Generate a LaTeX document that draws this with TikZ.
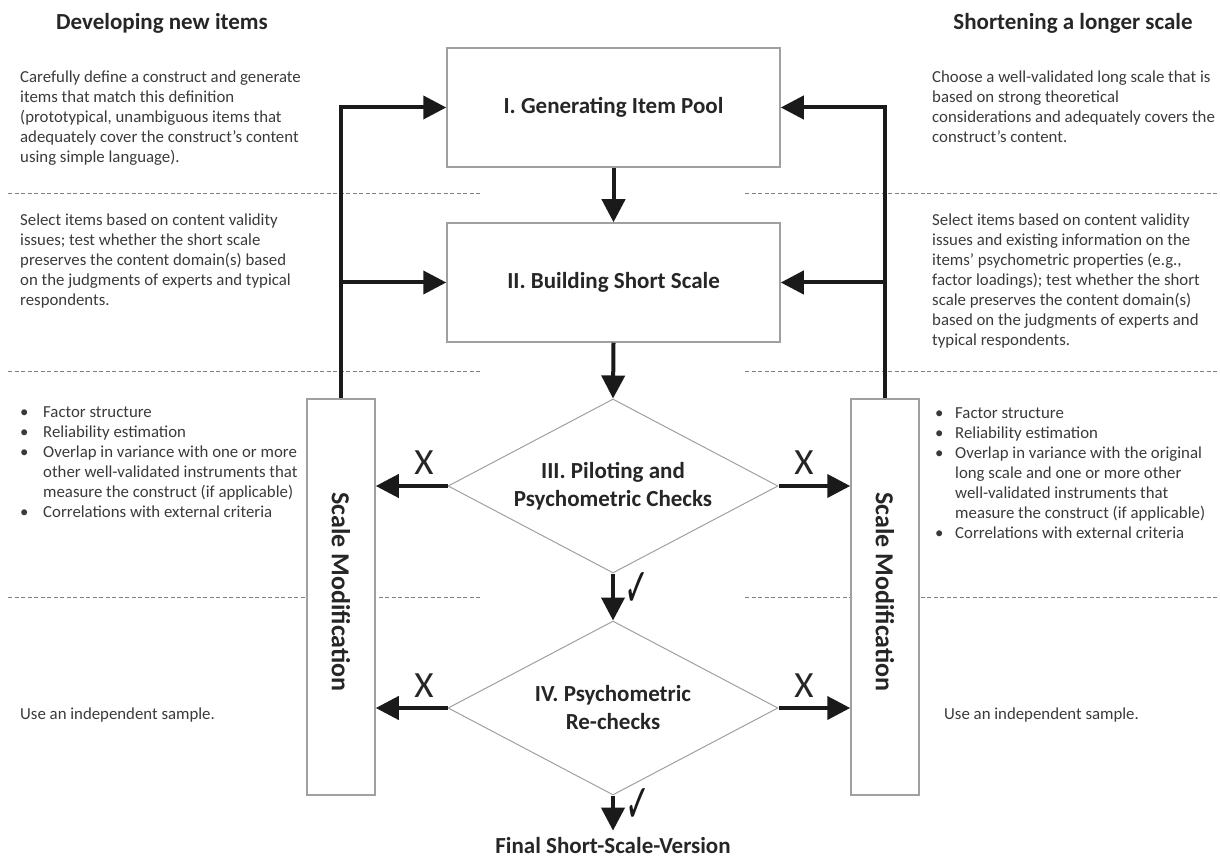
\documentclass[tikz,border=0pt]{standalone}
\usepackage{fontspec}
\setmainfont{Carlito}
\newfontfamily\symfont{DejaVu Sans}
\usetikzlibrary{arrows.meta,shapes.geometric}
\definecolor{txt}{HTML}{3A3A3A}
\definecolor{hd}{HTML}{262626}
\definecolor{bord}{HTML}{A0A0A0}
\definecolor{dashc}{HTML}{808080}
\definecolor{arrc}{HTML}{1A1A1A}
\begin{document}
\begin{tikzpicture}[x=1pt,y=-1pt,
  body/.style={font=\fontsize{16.8}{19.9}\selectfont, text=txt, align=left, inner sep=0pt, anchor=north west},
  head/.style={font=\fontsize{23}{28}\selectfont\bfseries, text=hd, inner sep=0pt},
  procbox/.style={draw=bord, line width=1.5pt, fill=white, minimum width=333pt, minimum height=119pt, inner sep=0pt, font=\fontsize{23}{28}\selectfont\bfseries, text=hd},
  decision/.style={diamond, draw=bord, line width=1pt, fill=white, aspect=1.9, minimum width=330pt, minimum height=174pt, inner sep=0pt, align=center, font=\fontsize{23}{28}\selectfont\bfseries, text=hd},
  modbox/.style={draw=bord, line width=1.5pt, fill=white, minimum width=68pt, minimum height=396pt, inner sep=0pt},
  modtext/.style={rotate=-90, inner sep=0pt, font=\fontsize{26}{30}\selectfont\bfseries, text=hd},
  flow/.style={line width=4pt, draw=arrc, -{Triangle[length=23pt,width=23pt]}},
  dashline/.style={draw=dashc, line width=1pt, dash pattern=on 4pt off 2.5pt},
  xmark/.style={inner sep=0pt, font=\fontsize{37}{37}\selectfont, text=hd},
  chk/.style={inner sep=0pt, font=\symfont\fontsize{54}{54}\selectfont, text=arrc}
]
\useasboundingbox (0,0) rectangle (1220,858);

% separators
\draw[dashline] (8,194) -- (482,194);
\draw[dashline] (745,194) -- (1218,194);
\draw[dashline] (8,371) -- (482,371);
\draw[dashline] (745,371) -- (1218,371);
\draw[dashline] (8,597) -- (482,597);
\draw[dashline] (745,597) -- (1218,597);

% headings
\node[head] (hl) at (162,23) {Developing new items};
\node[head] (hr) at (1073,23) {Shortening a longer scale};

% side texts
\node[body] (tl1) at (20,71) {Carefully define a construct and generate\\ items that match this definition\\ (prototypical, unambiguous items that\\ adequately cover the construct’s content\\ using simple language).};
\node[body] (tl2) at (20,214) {Select items based on content validity\\ issues; test whether the short scale\\ preserves the content domain(s) based\\ on the judgments of experts and typical\\ respondents.};
\node[body] (tr1) at (932,71) {Choose a well-validated long scale that is\\ based on strong theoretical\\ considerations and adequately covers the\\ construct’s content.};
\node[body] (tr2) at (932,214) {Select items based on content validity\\ issues and existing information on the\\ items’ psychometric properties (e.g.,\\ factor loadings); test whether the short\\ scale preserves the content domain(s)\\ based on the judgments of experts and\\ typical respondents.};
\node[body] (tl3) at (20,407) {\makebox[23pt][l]{•}Factor structure\\ \makebox[23pt][l]{•}Reliability estimation\\ \makebox[23pt][l]{•}Overlap in variance with one or more\\ \hspace*{23pt}other well-validated instruments that\\ \hspace*{23pt}measure the construct (if applicable)\\ \makebox[23pt][l]{•}Correlations with external criteria};
\node[body] (tr3) at (935,408) {\makebox[20pt][l]{•}Factor structure\\ \makebox[20pt][l]{•}Reliability estimation\\ \makebox[20pt][l]{•}Overlap in variance with the original\\ \hspace*{20pt}long scale and one or more other\\ \hspace*{20pt}well-validated instruments that\\ \hspace*{20pt}measure the construct (if applicable)\\ \makebox[20pt][l]{•}Correlations with external criteria};
\node[body] (tl4) at (20,708) {Use an independent sample.};
\node[body] (tr4) at (944,708) {Use an independent sample.};

% main flow
\node[procbox] (b1) at (613.5,107.5) {I. Generating Item Pool};
\node[procbox] (b2) at (613.5,282.5) {II. Building Short Scale};
\node[decision] (d3) at (613,486) {III. Piloting and\\ Psychometric Checks};
\node[decision] (d4) at (613,708) {IV. Psychometric\\ Re-checks};
\node[head] (fin) at (613,846) {Final Short-Scale-Version};

\node[modbox] (sm1) at (341,597) {};
\node[modtext] (st1) at (341,592) {Scale Modification};
\node[modbox] (sm2) at (885,597) {};
\node[modtext] (st2) at (885,592) {Scale Modification};

% connectors
\draw[flow] (b1.south) -- (b2.north);
\draw[flow] (b2.south) -- (d3.north);
\draw[flow] (d3.south) -- (d4.north);
\draw[flow, shorten >=7pt] (d4.south) -- (fin.north);

\draw[flow] (d3.west) -- (d3.west -| sm1.east);
\draw[flow] (d3.east) -- (d3.east -| sm2.west);
\draw[flow] (d4.west) -- (d4.west -| sm1.east);
\draw[flow] (d4.east) -- (d4.east -| sm2.west);

\draw[flow] (sm1.north) |- (b1.west);
\draw[flow] (sm1.north |- b2.west) -- (b2.west);
\draw[flow] (sm2.north) |- (b1.east);
\draw[flow] (sm2.north |- b2.east) -- (b2.east);

% labels
\node[xmark] (x1) at (424,463) {X};
\node[xmark] (x2) at (804,463) {X};
\node[xmark] (x3) at (424,686) {X};
\node[xmark] (x4) at (804,686) {X};
\node[chk] (c1) at (637,589) {\scalebox{0.55}[1]{✓}};
\node[chk] (c2) at (638,805) {\scalebox{0.55}[1]{✓}};
\end{tikzpicture}
\end{document}
